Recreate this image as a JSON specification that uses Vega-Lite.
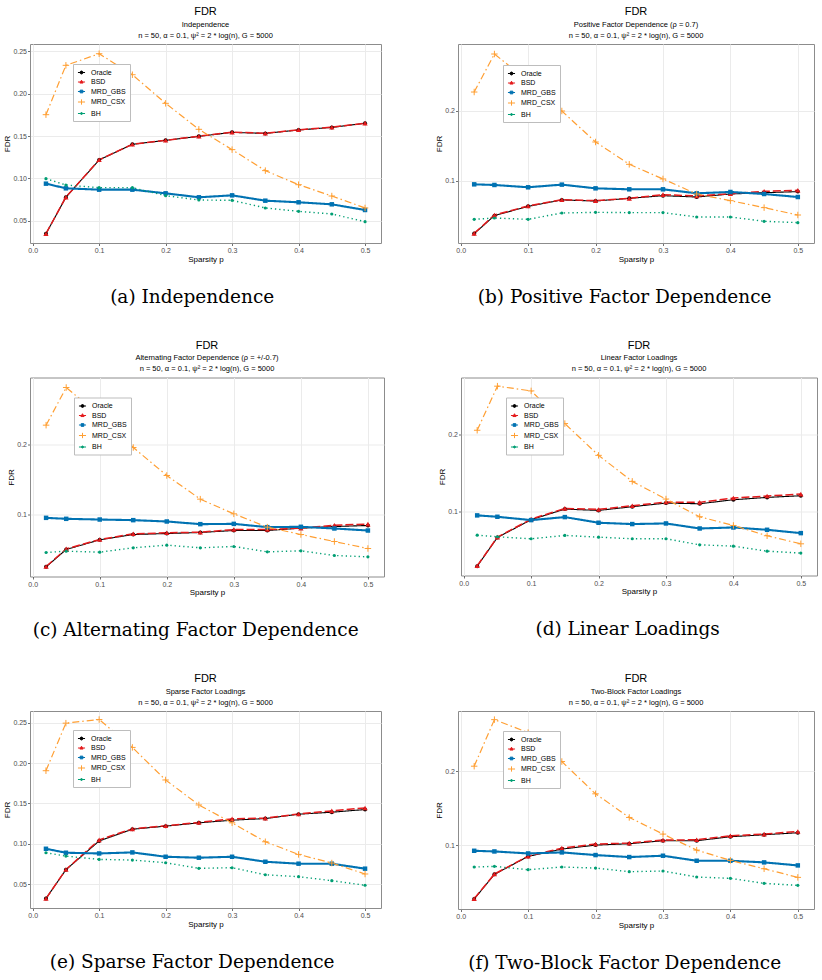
{
  "$schema": "https://vega.github.io/schema/vega-lite/v6.json",
  "background": "white",
  "padding": {"left": 2, "top": 5, "right": 3, "bottom": 3},
  "spacing": 32.5,
  "resolve": {"scale": {"color": "independent"}, "legend": {"color": "independent"}},
  "datasets": {
    "fdr": [
      {"panel": "a", "method": "Oracle", "p": 0.02, "fdr": 0.0346},
      {"panel": "a", "method": "Oracle", "p": 0.05, "fdr": 0.0776},
      {"panel": "a", "method": "Oracle", "p": 0.1, "fdr": 0.1217},
      {"panel": "a", "method": "Oracle", "p": 0.15, "fdr": 0.1402},
      {"panel": "a", "method": "Oracle", "p": 0.2, "fdr": 0.1449},
      {"panel": "a", "method": "Oracle", "p": 0.25, "fdr": 0.1496},
      {"panel": "a", "method": "Oracle", "p": 0.3, "fdr": 0.1543},
      {"panel": "a", "method": "Oracle", "p": 0.35, "fdr": 0.1531},
      {"panel": "a", "method": "Oracle", "p": 0.4, "fdr": 0.1571},
      {"panel": "a", "method": "Oracle", "p": 0.45, "fdr": 0.1602},
      {"panel": "a", "method": "Oracle", "p": 0.5, "fdr": 0.165},
      {"panel": "a", "method": "BSD", "p": 0.02, "fdr": 0.0346},
      {"panel": "a", "method": "BSD", "p": 0.05, "fdr": 0.0778},
      {"panel": "a", "method": "BSD", "p": 0.1, "fdr": 0.1219},
      {"panel": "a", "method": "BSD", "p": 0.15, "fdr": 0.1402},
      {"panel": "a", "method": "BSD", "p": 0.2, "fdr": 0.1449},
      {"panel": "a", "method": "BSD", "p": 0.25, "fdr": 0.1498},
      {"panel": "a", "method": "BSD", "p": 0.3, "fdr": 0.1545},
      {"panel": "a", "method": "BSD", "p": 0.35, "fdr": 0.1533},
      {"panel": "a", "method": "BSD", "p": 0.4, "fdr": 0.1573},
      {"panel": "a", "method": "BSD", "p": 0.45, "fdr": 0.1604},
      {"panel": "a", "method": "BSD", "p": 0.5, "fdr": 0.1652},
      {"panel": "a", "method": "MRD_GBS", "p": 0.02, "fdr": 0.0937},
      {"panel": "a", "method": "MRD_GBS", "p": 0.05, "fdr": 0.0882},
      {"panel": "a", "method": "MRD_GBS", "p": 0.1, "fdr": 0.0866},
      {"panel": "a", "method": "MRD_GBS", "p": 0.15, "fdr": 0.0866},
      {"panel": "a", "method": "MRD_GBS", "p": 0.2, "fdr": 0.0823},
      {"panel": "a", "method": "MRD_GBS", "p": 0.25, "fdr": 0.0776},
      {"panel": "a", "method": "MRD_GBS", "p": 0.3, "fdr": 0.0799},
      {"panel": "a", "method": "MRD_GBS", "p": 0.35, "fdr": 0.0736},
      {"panel": "a", "method": "MRD_GBS", "p": 0.4, "fdr": 0.0717},
      {"panel": "a", "method": "MRD_GBS", "p": 0.45, "fdr": 0.0693},
      {"panel": "a", "method": "MRD_GBS", "p": 0.5, "fdr": 0.0626},
      {"panel": "a", "method": "MRD_CSX", "p": 0.02, "fdr": 0.1752},
      {"panel": "a", "method": "MRD_CSX", "p": 0.05, "fdr": 0.2335},
      {"panel": "a", "method": "MRD_CSX", "p": 0.1, "fdr": 0.2472},
      {"panel": "a", "method": "MRD_CSX", "p": 0.15, "fdr": 0.2224},
      {"panel": "a", "method": "MRD_CSX", "p": 0.2, "fdr": 0.1886},
      {"panel": "a", "method": "MRD_CSX", "p": 0.25, "fdr": 0.1579},
      {"panel": "a", "method": "MRD_CSX", "p": 0.3, "fdr": 0.1339},
      {"panel": "a", "method": "MRD_CSX", "p": 0.35, "fdr": 0.1091},
      {"panel": "a", "method": "MRD_CSX", "p": 0.4, "fdr": 0.0925},
      {"panel": "a", "method": "MRD_CSX", "p": 0.45, "fdr": 0.0791},
      {"panel": "a", "method": "MRD_CSX", "p": 0.5, "fdr": 0.065},
      {"panel": "a", "method": "BH", "p": 0.02, "fdr": 0.0996},
      {"panel": "a", "method": "BH", "p": 0.05, "fdr": 0.0921},
      {"panel": "a", "method": "BH", "p": 0.1, "fdr": 0.089},
      {"panel": "a", "method": "BH", "p": 0.15, "fdr": 0.089},
      {"panel": "a", "method": "BH", "p": 0.2, "fdr": 0.0795},
      {"panel": "a", "method": "BH", "p": 0.25, "fdr": 0.0744},
      {"panel": "a", "method": "BH", "p": 0.3, "fdr": 0.074},
      {"panel": "a", "method": "BH", "p": 0.35, "fdr": 0.065},
      {"panel": "a", "method": "BH", "p": 0.4, "fdr": 0.061},
      {"panel": "a", "method": "BH", "p": 0.45, "fdr": 0.0579},
      {"panel": "a", "method": "BH", "p": 0.5, "fdr": 0.0488},

      {"panel": "b", "method": "Oracle", "p": 0.02, "fdr": 0.0248},
      {"panel": "b", "method": "Oracle", "p": 0.05, "fdr": 0.0505},
      {"panel": "b", "method": "Oracle", "p": 0.1, "fdr": 0.0638},
      {"panel": "b", "method": "Oracle", "p": 0.15, "fdr": 0.0729},
      {"panel": "b", "method": "Oracle", "p": 0.2, "fdr": 0.0714},
      {"panel": "b", "method": "Oracle", "p": 0.25, "fdr": 0.0752},
      {"panel": "b", "method": "Oracle", "p": 0.3, "fdr": 0.079},
      {"panel": "b", "method": "Oracle", "p": 0.35, "fdr": 0.0771},
      {"panel": "b", "method": "Oracle", "p": 0.4, "fdr": 0.0814},
      {"panel": "b", "method": "Oracle", "p": 0.45, "fdr": 0.0833},
      {"panel": "b", "method": "Oracle", "p": 0.5, "fdr": 0.0848},
      {"panel": "b", "method": "BSD", "p": 0.02, "fdr": 0.0252},
      {"panel": "b", "method": "BSD", "p": 0.05, "fdr": 0.0514},
      {"panel": "b", "method": "BSD", "p": 0.1, "fdr": 0.0643},
      {"panel": "b", "method": "BSD", "p": 0.15, "fdr": 0.0733},
      {"panel": "b", "method": "BSD", "p": 0.2, "fdr": 0.0719},
      {"panel": "b", "method": "BSD", "p": 0.25, "fdr": 0.0752},
      {"panel": "b", "method": "BSD", "p": 0.3, "fdr": 0.0805},
      {"panel": "b", "method": "BSD", "p": 0.35, "fdr": 0.0786},
      {"panel": "b", "method": "BSD", "p": 0.4, "fdr": 0.0819},
      {"panel": "b", "method": "BSD", "p": 0.45, "fdr": 0.0852},
      {"panel": "b", "method": "BSD", "p": 0.5, "fdr": 0.0867},
      {"panel": "b", "method": "MRD_GBS", "p": 0.02, "fdr": 0.0952},
      {"panel": "b", "method": "MRD_GBS", "p": 0.05, "fdr": 0.0943},
      {"panel": "b", "method": "MRD_GBS", "p": 0.1, "fdr": 0.091},
      {"panel": "b", "method": "MRD_GBS", "p": 0.15, "fdr": 0.0948},
      {"panel": "b", "method": "MRD_GBS", "p": 0.2, "fdr": 0.0895},
      {"panel": "b", "method": "MRD_GBS", "p": 0.25, "fdr": 0.0881},
      {"panel": "b", "method": "MRD_GBS", "p": 0.3, "fdr": 0.0881},
      {"panel": "b", "method": "MRD_GBS", "p": 0.35, "fdr": 0.0824},
      {"panel": "b", "method": "MRD_GBS", "p": 0.4, "fdr": 0.0843},
      {"panel": "b", "method": "MRD_GBS", "p": 0.45, "fdr": 0.0814},
      {"panel": "b", "method": "MRD_GBS", "p": 0.5, "fdr": 0.0771},
      {"panel": "b", "method": "MRD_CSX", "p": 0.02, "fdr": 0.2271},
      {"panel": "b", "method": "MRD_CSX", "p": 0.05, "fdr": 0.2814},
      {"panel": "b", "method": "MRD_CSX", "p": 0.1, "fdr": 0.243},
      {"panel": "b", "method": "MRD_CSX", "p": 0.15, "fdr": 0.2},
      {"panel": "b", "method": "MRD_CSX", "p": 0.2, "fdr": 0.1557},
      {"panel": "b", "method": "MRD_CSX", "p": 0.25, "fdr": 0.1238},
      {"panel": "b", "method": "MRD_CSX", "p": 0.3, "fdr": 0.1029},
      {"panel": "b", "method": "MRD_CSX", "p": 0.35, "fdr": 0.0814},
      {"panel": "b", "method": "MRD_CSX", "p": 0.4, "fdr": 0.0719},
      {"panel": "b", "method": "MRD_CSX", "p": 0.45, "fdr": 0.0619},
      {"panel": "b", "method": "MRD_CSX", "p": 0.5, "fdr": 0.0514},
      {"panel": "b", "method": "BH", "p": 0.02, "fdr": 0.0452},
      {"panel": "b", "method": "BH", "p": 0.05, "fdr": 0.0471},
      {"panel": "b", "method": "BH", "p": 0.1, "fdr": 0.0452},
      {"panel": "b", "method": "BH", "p": 0.15, "fdr": 0.0543},
      {"panel": "b", "method": "BH", "p": 0.2, "fdr": 0.0552},
      {"panel": "b", "method": "BH", "p": 0.25, "fdr": 0.0548},
      {"panel": "b", "method": "BH", "p": 0.3, "fdr": 0.0548},
      {"panel": "b", "method": "BH", "p": 0.35, "fdr": 0.0486},
      {"panel": "b", "method": "BH", "p": 0.4, "fdr": 0.0486},
      {"panel": "b", "method": "BH", "p": 0.45, "fdr": 0.0424},
      {"panel": "b", "method": "BH", "p": 0.5, "fdr": 0.0405},

      {"panel": "c", "method": "Oracle", "p": 0.02, "fdr": 0.0257},
      {"panel": "c", "method": "Oracle", "p": 0.05, "fdr": 0.0505},
      {"panel": "c", "method": "Oracle", "p": 0.1, "fdr": 0.0643},
      {"panel": "c", "method": "Oracle", "p": 0.15, "fdr": 0.0719},
      {"panel": "c", "method": "Oracle", "p": 0.2, "fdr": 0.0733},
      {"panel": "c", "method": "Oracle", "p": 0.25, "fdr": 0.0748},
      {"panel": "c", "method": "Oracle", "p": 0.3, "fdr": 0.0776},
      {"panel": "c", "method": "Oracle", "p": 0.35, "fdr": 0.0776},
      {"panel": "c", "method": "Oracle", "p": 0.4, "fdr": 0.081},
      {"panel": "c", "method": "Oracle", "p": 0.45, "fdr": 0.0833},
      {"panel": "c", "method": "Oracle", "p": 0.5, "fdr": 0.0848},
      {"panel": "c", "method": "BSD", "p": 0.02, "fdr": 0.0262},
      {"panel": "c", "method": "BSD", "p": 0.05, "fdr": 0.0514},
      {"panel": "c", "method": "BSD", "p": 0.1, "fdr": 0.0648},
      {"panel": "c", "method": "BSD", "p": 0.15, "fdr": 0.0729},
      {"panel": "c", "method": "BSD", "p": 0.2, "fdr": 0.0743},
      {"panel": "c", "method": "BSD", "p": 0.25, "fdr": 0.0752},
      {"panel": "c", "method": "BSD", "p": 0.3, "fdr": 0.079},
      {"panel": "c", "method": "BSD", "p": 0.35, "fdr": 0.079},
      {"panel": "c", "method": "BSD", "p": 0.4, "fdr": 0.081},
      {"panel": "c", "method": "BSD", "p": 0.45, "fdr": 0.0852},
      {"panel": "c", "method": "BSD", "p": 0.5, "fdr": 0.0867},
      {"panel": "c", "method": "MRD_GBS", "p": 0.02, "fdr": 0.0957},
      {"panel": "c", "method": "MRD_GBS", "p": 0.05, "fdr": 0.0943},
      {"panel": "c", "method": "MRD_GBS", "p": 0.1, "fdr": 0.0933},
      {"panel": "c", "method": "MRD_GBS", "p": 0.15, "fdr": 0.0924},
      {"panel": "c", "method": "MRD_GBS", "p": 0.2, "fdr": 0.0905},
      {"panel": "c", "method": "MRD_GBS", "p": 0.25, "fdr": 0.0867},
      {"panel": "c", "method": "MRD_GBS", "p": 0.3, "fdr": 0.0871},
      {"panel": "c", "method": "MRD_GBS", "p": 0.35, "fdr": 0.0824},
      {"panel": "c", "method": "MRD_GBS", "p": 0.4, "fdr": 0.0829},
      {"panel": "c", "method": "MRD_GBS", "p": 0.45, "fdr": 0.0805},
      {"panel": "c", "method": "MRD_GBS", "p": 0.5, "fdr": 0.0776},
      {"panel": "c", "method": "MRD_CSX", "p": 0.02, "fdr": 0.2281},
      {"panel": "c", "method": "MRD_CSX", "p": 0.05, "fdr": 0.2819},
      {"panel": "c", "method": "MRD_CSX", "p": 0.1, "fdr": 0.242},
      {"panel": "c", "method": "MRD_CSX", "p": 0.15, "fdr": 0.1962},
      {"panel": "c", "method": "MRD_CSX", "p": 0.2, "fdr": 0.1562},
      {"panel": "c", "method": "MRD_CSX", "p": 0.25, "fdr": 0.1224},
      {"panel": "c", "method": "MRD_CSX", "p": 0.3, "fdr": 0.1014},
      {"panel": "c", "method": "MRD_CSX", "p": 0.35, "fdr": 0.0824},
      {"panel": "c", "method": "MRD_CSX", "p": 0.4, "fdr": 0.0719},
      {"panel": "c", "method": "MRD_CSX", "p": 0.45, "fdr": 0.0619},
      {"panel": "c", "method": "MRD_CSX", "p": 0.5, "fdr": 0.0519},
      {"panel": "c", "method": "BH", "p": 0.02, "fdr": 0.0462},
      {"panel": "c", "method": "BH", "p": 0.05, "fdr": 0.0481},
      {"panel": "c", "method": "BH", "p": 0.1, "fdr": 0.0467},
      {"panel": "c", "method": "BH", "p": 0.15, "fdr": 0.0529},
      {"panel": "c", "method": "BH", "p": 0.2, "fdr": 0.0567},
      {"panel": "c", "method": "BH", "p": 0.25, "fdr": 0.0529},
      {"panel": "c", "method": "BH", "p": 0.3, "fdr": 0.0548},
      {"panel": "c", "method": "BH", "p": 0.35, "fdr": 0.0471},
      {"panel": "c", "method": "BH", "p": 0.4, "fdr": 0.0486},
      {"panel": "c", "method": "BH", "p": 0.45, "fdr": 0.0419},
      {"panel": "c", "method": "BH", "p": 0.5, "fdr": 0.04},

      {"panel": "d", "method": "Oracle", "p": 0.02, "fdr": 0.0297},
      {"panel": "d", "method": "Oracle", "p": 0.05, "fdr": 0.0668},
      {"panel": "d", "method": "Oracle", "p": 0.1, "fdr": 0.0897},
      {"panel": "d", "method": "Oracle", "p": 0.15, "fdr": 0.1034},
      {"panel": "d", "method": "Oracle", "p": 0.2, "fdr": 0.1017},
      {"panel": "d", "method": "Oracle", "p": 0.25, "fdr": 0.1065},
      {"panel": "d", "method": "Oracle", "p": 0.3, "fdr": 0.1112},
      {"panel": "d", "method": "Oracle", "p": 0.35, "fdr": 0.1103},
      {"panel": "d", "method": "Oracle", "p": 0.4, "fdr": 0.1155},
      {"panel": "d", "method": "Oracle", "p": 0.45, "fdr": 0.1185},
      {"panel": "d", "method": "Oracle", "p": 0.5, "fdr": 0.1207},
      {"panel": "d", "method": "BSD", "p": 0.02, "fdr": 0.0302},
      {"panel": "d", "method": "BSD", "p": 0.05, "fdr": 0.0672},
      {"panel": "d", "method": "BSD", "p": 0.1, "fdr": 0.0905},
      {"panel": "d", "method": "BSD", "p": 0.15, "fdr": 0.1043},
      {"panel": "d", "method": "BSD", "p": 0.2, "fdr": 0.103},
      {"panel": "d", "method": "BSD", "p": 0.25, "fdr": 0.1078},
      {"panel": "d", "method": "BSD", "p": 0.3, "fdr": 0.1125},
      {"panel": "d", "method": "BSD", "p": 0.35, "fdr": 0.1121},
      {"panel": "d", "method": "BSD", "p": 0.4, "fdr": 0.1177},
      {"panel": "d", "method": "BSD", "p": 0.45, "fdr": 0.1203},
      {"panel": "d", "method": "BSD", "p": 0.5, "fdr": 0.1228},
      {"panel": "d", "method": "MRD_GBS", "p": 0.02, "fdr": 0.0953},
      {"panel": "d", "method": "MRD_GBS", "p": 0.05, "fdr": 0.0935},
      {"panel": "d", "method": "MRD_GBS", "p": 0.1, "fdr": 0.0892},
      {"panel": "d", "method": "MRD_GBS", "p": 0.15, "fdr": 0.0931},
      {"panel": "d", "method": "MRD_GBS", "p": 0.2, "fdr": 0.0858},
      {"panel": "d", "method": "MRD_GBS", "p": 0.25, "fdr": 0.0841},
      {"panel": "d", "method": "MRD_GBS", "p": 0.3, "fdr": 0.0849},
      {"panel": "d", "method": "MRD_GBS", "p": 0.35, "fdr": 0.0784},
      {"panel": "d", "method": "MRD_GBS", "p": 0.4, "fdr": 0.0797},
      {"panel": "d", "method": "MRD_GBS", "p": 0.45, "fdr": 0.0767},
      {"panel": "d", "method": "MRD_GBS", "p": 0.5, "fdr": 0.0724},
      {"panel": "d", "method": "MRD_CSX", "p": 0.02, "fdr": 0.2052},
      {"panel": "d", "method": "MRD_CSX", "p": 0.05, "fdr": 0.2621},
      {"panel": "d", "method": "MRD_CSX", "p": 0.1, "fdr": 0.256},
      {"panel": "d", "method": "MRD_CSX", "p": 0.15, "fdr": 0.2138},
      {"panel": "d", "method": "MRD_CSX", "p": 0.2, "fdr": 0.1728},
      {"panel": "d", "method": "MRD_CSX", "p": 0.25, "fdr": 0.1392},
      {"panel": "d", "method": "MRD_CSX", "p": 0.3, "fdr": 0.1164},
      {"panel": "d", "method": "MRD_CSX", "p": 0.35, "fdr": 0.0935},
      {"panel": "d", "method": "MRD_CSX", "p": 0.4, "fdr": 0.0823},
      {"panel": "d", "method": "MRD_CSX", "p": 0.45, "fdr": 0.069},
      {"panel": "d", "method": "MRD_CSX", "p": 0.5, "fdr": 0.0586},
      {"panel": "d", "method": "BH", "p": 0.02, "fdr": 0.0698},
      {"panel": "d", "method": "BH", "p": 0.05, "fdr": 0.0677},
      {"panel": "d", "method": "BH", "p": 0.1, "fdr": 0.0651},
      {"panel": "d", "method": "BH", "p": 0.15, "fdr": 0.0694},
      {"panel": "d", "method": "BH", "p": 0.2, "fdr": 0.0672},
      {"panel": "d", "method": "BH", "p": 0.25, "fdr": 0.0651},
      {"panel": "d", "method": "BH", "p": 0.3, "fdr": 0.0651},
      {"panel": "d", "method": "BH", "p": 0.35, "fdr": 0.0573},
      {"panel": "d", "method": "BH", "p": 0.4, "fdr": 0.0556},
      {"panel": "d", "method": "BH", "p": 0.45, "fdr": 0.0491},
      {"panel": "d", "method": "BH", "p": 0.5, "fdr": 0.0466},

      {"panel": "e", "method": "Oracle", "p": 0.02, "fdr": 0.032},
      {"panel": "e", "method": "Oracle", "p": 0.05, "fdr": 0.0678},
      {"panel": "e", "method": "Oracle", "p": 0.1, "fdr": 0.1035},
      {"panel": "e", "method": "Oracle", "p": 0.15, "fdr": 0.1181},
      {"panel": "e", "method": "Oracle", "p": 0.2, "fdr": 0.1219},
      {"panel": "e", "method": "Oracle", "p": 0.25, "fdr": 0.126},
      {"panel": "e", "method": "Oracle", "p": 0.3, "fdr": 0.1293},
      {"panel": "e", "method": "Oracle", "p": 0.35, "fdr": 0.1313},
      {"panel": "e", "method": "Oracle", "p": 0.4, "fdr": 0.1367},
      {"panel": "e", "method": "Oracle", "p": 0.45, "fdr": 0.1392},
      {"panel": "e", "method": "Oracle", "p": 0.5, "fdr": 0.1425},
      {"panel": "e", "method": "BSD", "p": 0.02, "fdr": 0.032},
      {"panel": "e", "method": "BSD", "p": 0.05, "fdr": 0.068},
      {"panel": "e", "method": "BSD", "p": 0.1, "fdr": 0.1049},
      {"panel": "e", "method": "BSD", "p": 0.15, "fdr": 0.1185},
      {"panel": "e", "method": "BSD", "p": 0.2, "fdr": 0.1223},
      {"panel": "e", "method": "BSD", "p": 0.25, "fdr": 0.1265},
      {"panel": "e", "method": "BSD", "p": 0.3, "fdr": 0.1309},
      {"panel": "e", "method": "BSD", "p": 0.35, "fdr": 0.1318},
      {"panel": "e", "method": "BSD", "p": 0.4, "fdr": 0.137},
      {"panel": "e", "method": "BSD", "p": 0.45, "fdr": 0.1408},
      {"panel": "e", "method": "BSD", "p": 0.5, "fdr": 0.1445},
      {"panel": "e", "method": "MRD_GBS", "p": 0.02, "fdr": 0.0938},
      {"panel": "e", "method": "MRD_GBS", "p": 0.05, "fdr": 0.0889},
      {"panel": "e", "method": "MRD_GBS", "p": 0.1, "fdr": 0.088},
      {"panel": "e", "method": "MRD_GBS", "p": 0.15, "fdr": 0.0893},
      {"panel": "e", "method": "MRD_GBS", "p": 0.2, "fdr": 0.0839},
      {"panel": "e", "method": "MRD_GBS", "p": 0.25, "fdr": 0.0827},
      {"panel": "e", "method": "MRD_GBS", "p": 0.3, "fdr": 0.0839},
      {"panel": "e", "method": "MRD_GBS", "p": 0.35, "fdr": 0.0777},
      {"panel": "e", "method": "MRD_GBS", "p": 0.4, "fdr": 0.0753},
      {"panel": "e", "method": "MRD_GBS", "p": 0.45, "fdr": 0.0753},
      {"panel": "e", "method": "MRD_GBS", "p": 0.5, "fdr": 0.0691},
      {"panel": "e", "method": "MRD_CSX", "p": 0.02, "fdr": 0.1907},
      {"panel": "e", "method": "MRD_CSX", "p": 0.05, "fdr": 0.2497},
      {"panel": "e", "method": "MRD_CSX", "p": 0.1, "fdr": 0.2542},
      {"panel": "e", "method": "MRD_CSX", "p": 0.15, "fdr": 0.2196},
      {"panel": "e", "method": "MRD_CSX", "p": 0.2, "fdr": 0.1792},
      {"panel": "e", "method": "MRD_CSX", "p": 0.25, "fdr": 0.1482},
      {"panel": "e", "method": "MRD_CSX", "p": 0.3, "fdr": 0.126},
      {"panel": "e", "method": "MRD_CSX", "p": 0.35, "fdr": 0.1025},
      {"panel": "e", "method": "MRD_CSX", "p": 0.4, "fdr": 0.0868},
      {"panel": "e", "method": "MRD_CSX", "p": 0.45, "fdr": 0.0761},
      {"panel": "e", "method": "MRD_CSX", "p": 0.5, "fdr": 0.0625},
      {"panel": "e", "method": "BH", "p": 0.02, "fdr": 0.0889},
      {"panel": "e", "method": "BH", "p": 0.05, "fdr": 0.0847},
      {"panel": "e", "method": "BH", "p": 0.1, "fdr": 0.0806},
      {"panel": "e", "method": "BH", "p": 0.15, "fdr": 0.0798},
      {"panel": "e", "method": "BH", "p": 0.2, "fdr": 0.0765},
      {"panel": "e", "method": "BH", "p": 0.25, "fdr": 0.0695},
      {"panel": "e", "method": "BH", "p": 0.3, "fdr": 0.0703},
      {"panel": "e", "method": "BH", "p": 0.35, "fdr": 0.0616},
      {"panel": "e", "method": "BH", "p": 0.4, "fdr": 0.0592},
      {"panel": "e", "method": "BH", "p": 0.45, "fdr": 0.0542},
      {"panel": "e", "method": "BH", "p": 0.5, "fdr": 0.0485},

      {"panel": "f", "method": "Oracle", "p": 0.02, "fdr": 0.027},
      {"panel": "f", "method": "Oracle", "p": 0.05, "fdr": 0.0604},
      {"panel": "f", "method": "Oracle", "p": 0.1, "fdr": 0.0847},
      {"panel": "f", "method": "Oracle", "p": 0.15, "fdr": 0.0946},
      {"panel": "f", "method": "Oracle", "p": 0.2, "fdr": 0.1},
      {"panel": "f", "method": "Oracle", "p": 0.25, "fdr": 0.1018},
      {"panel": "f", "method": "Oracle", "p": 0.3, "fdr": 0.1059},
      {"panel": "f", "method": "Oracle", "p": 0.35, "fdr": 0.1059},
      {"panel": "f", "method": "Oracle", "p": 0.4, "fdr": 0.1113},
      {"panel": "f", "method": "Oracle", "p": 0.45, "fdr": 0.114},
      {"panel": "f", "method": "Oracle", "p": 0.5, "fdr": 0.1167},
      {"panel": "f", "method": "BSD", "p": 0.02, "fdr": 0.0275},
      {"panel": "f", "method": "BSD", "p": 0.05, "fdr": 0.0608},
      {"panel": "f", "method": "BSD", "p": 0.1, "fdr": 0.0851},
      {"panel": "f", "method": "BSD", "p": 0.15, "fdr": 0.0959},
      {"panel": "f", "method": "BSD", "p": 0.2, "fdr": 0.1014},
      {"panel": "f", "method": "BSD", "p": 0.25, "fdr": 0.1027},
      {"panel": "f", "method": "BSD", "p": 0.3, "fdr": 0.1068},
      {"panel": "f", "method": "BSD", "p": 0.35, "fdr": 0.1072},
      {"panel": "f", "method": "BSD", "p": 0.4, "fdr": 0.1126},
      {"panel": "f", "method": "BSD", "p": 0.45, "fdr": 0.1149},
      {"panel": "f", "method": "BSD", "p": 0.5, "fdr": 0.1185},
      {"panel": "f", "method": "MRD_GBS", "p": 0.02, "fdr": 0.0923},
      {"panel": "f", "method": "MRD_GBS", "p": 0.05, "fdr": 0.0914},
      {"panel": "f", "method": "MRD_GBS", "p": 0.1, "fdr": 0.0887},
      {"panel": "f", "method": "MRD_GBS", "p": 0.15, "fdr": 0.0901},
      {"panel": "f", "method": "MRD_GBS", "p": 0.2, "fdr": 0.0865},
      {"panel": "f", "method": "MRD_GBS", "p": 0.25, "fdr": 0.0838},
      {"panel": "f", "method": "MRD_GBS", "p": 0.3, "fdr": 0.0856},
      {"panel": "f", "method": "MRD_GBS", "p": 0.35, "fdr": 0.0788},
      {"panel": "f", "method": "MRD_GBS", "p": 0.4, "fdr": 0.0788},
      {"panel": "f", "method": "MRD_GBS", "p": 0.45, "fdr": 0.0766},
      {"panel": "f", "method": "MRD_GBS", "p": 0.5, "fdr": 0.0725},
      {"panel": "f", "method": "MRD_CSX", "p": 0.02, "fdr": 0.2068},
      {"panel": "f", "method": "MRD_CSX", "p": 0.05, "fdr": 0.2698},
      {"panel": "f", "method": "MRD_CSX", "p": 0.1, "fdr": 0.2523},
      {"panel": "f", "method": "MRD_CSX", "p": 0.15, "fdr": 0.2131},
      {"panel": "f", "method": "MRD_CSX", "p": 0.2, "fdr": 0.1694},
      {"panel": "f", "method": "MRD_CSX", "p": 0.25, "fdr": 0.1374},
      {"panel": "f", "method": "MRD_CSX", "p": 0.3, "fdr": 0.1149},
      {"panel": "f", "method": "MRD_CSX", "p": 0.35, "fdr": 0.0932},
      {"panel": "f", "method": "MRD_CSX", "p": 0.4, "fdr": 0.0793},
      {"panel": "f", "method": "MRD_CSX", "p": 0.45, "fdr": 0.068},
      {"panel": "f", "method": "MRD_CSX", "p": 0.5, "fdr": 0.0563},
      {"panel": "f", "method": "BH", "p": 0.02, "fdr": 0.0703},
      {"panel": "f", "method": "BH", "p": 0.05, "fdr": 0.0712},
      {"panel": "f", "method": "BH", "p": 0.1, "fdr": 0.0667},
      {"panel": "f", "method": "BH", "p": 0.15, "fdr": 0.0703},
      {"panel": "f", "method": "BH", "p": 0.2, "fdr": 0.0689},
      {"panel": "f", "method": "BH", "p": 0.25, "fdr": 0.064},
      {"panel": "f", "method": "BH", "p": 0.3, "fdr": 0.0649},
      {"panel": "f", "method": "BH", "p": 0.35, "fdr": 0.0568},
      {"panel": "f", "method": "BH", "p": 0.4, "fdr": 0.055},
      {"panel": "f", "method": "BH", "p": 0.45, "fdr": 0.0482},
      {"panel": "f", "method": "BH", "p": 0.5, "fdr": 0.0455}
    ]
  },
  "vconcat": [
    {
      "hconcat": [
        {
          "title": {"text": "(a) Independence", "orient": "bottom", "anchor": "middle", "frame": "bounds", "font": "DejaVu Serif", "fontSize": 18.5, "fontWeight": "normal", "color": "black", "offset": 24},
          "resolve": {"scale": {"color": "independent"}, "legend": {"color": "independent"}},
          "vconcat": [
            {
              "width": 351,
              "height": 199,
              "title": {"text": "FDR", "subtitle": ["Independence", "n = 50, α = 0.1, ψ² = 2 * log(n), G = 5000"]},
              "data": {"name": "fdr"},
              "transform": [{"filter": "datum.panel === 'a'"}],
              "encoding": {
                "x": {"field": "p", "type": "quantitative", "title": "Sparsity p", "scale": {"domain": [-0.004, 0.524], "nice": false, "zero": false}, "axis": {"values": [0, 0.1, 0.2, 0.3, 0.4, 0.5], "format": ".1f"}},
                "y": {"field": "fdr", "type": "quantitative", "title": "FDR", "scale": {"domain": [0.0236, 0.2587], "nice": false, "zero": false}, "axis": {"values": [0.05, 0.1, 0.15, 0.2, 0.25], "format": ".2f"}},
                "color": {
                  "field": "method", "type": "nominal",
                  "scale": {"domain": ["Oracle", "BSD", "MRD_GBS", "MRD_CSX", "BH"], "range": ["#000000", "#E41A1C", "#0072B2", "#FF9F33", "#009E73"]},
                  "legend": {"orient": "none", "legendX": 43, "legendY": 20, "title": null,
                    "encode": {"symbols": {"update": {
                      "shape": {"signal": "datum.value === 'Oracle' ? 'M-1,0H1M0.42,0A0.42,0.42,0,1,1,-0.42,0A0.42,0.42,0,1,1,0.42,0Z' : datum.value === 'BSD' ? 'M-1,0H1M0,-0.5L0.45,0.3L-0.45,0.3Z' : datum.value === 'MRD_GBS' ? 'M-1,0H1M-0.38,-0.38H0.38V0.38H-0.38Z' : datum.value === 'MRD_CSX' ? 'M-1,0H1M0,-0.75V0.75' : 'M-1,0H1M0.28,0A0.28,0.28,0,1,1,-0.28,0A0.28,0.28,0,1,1,0.28,0Z'"},
                      "fill": {"signal": "datum.value === 'Oracle' ? '#000000' : datum.value === 'BSD' ? '#E41A1C' : datum.value === 'MRD_GBS' ? '#0072B2' : datum.value === 'MRD_CSX' ? 'transparent' : '#009E73'"},
                      "stroke": {"signal": "datum.value === 'Oracle' ? '#000000' : datum.value === 'BSD' ? '#E41A1C' : datum.value === 'MRD_GBS' ? '#0072B2' : datum.value === 'MRD_CSX' ? '#FF9F33' : '#009E73'"},
                      "strokeWidth": {"value": 1}
                    }}}
                  }
                }
              },
              "layer": [
                {"data": {"values": [{}]}, "mark": {"type": "rule", "strokeDash": [4, 3], "strokeWidth": 1}, "encoding": {"x": {"datum": -0.004, "type": "quantitative"}, "x2": {"datum": 0.524}, "y": {"datum": 0.1, "type": "quantitative"}, "color": {"value": "#222222"}}},
                {"mark": {"type": "line"}, "encoding": {
                  "strokeDash": {"condition": [{"test": "datum.method === 'BSD'", "value": [8, 3]}, {"test": "datum.method === 'MRD_CSX'", "value": [7, 3, 1.5, 3]}, {"test": "datum.method === 'BH'", "value": [1.3, 3]}], "value": [1, 0]},
                  "strokeWidth": {"condition": [{"test": "datum.method === 'MRD_GBS'", "value": 2.1}, {"test": "datum.method === 'MRD_CSX'", "value": 1.2}, {"test": "datum.method === 'BH'", "value": 1.4}, {"test": "datum.method === 'BSD'", "value": 1.5}], "value": 1.1}
                }},
                {"transform": [{"filter": "datum.method !== 'MRD_CSX'"}], "mark": {"type": "point", "filled": true, "opacity": 1}, "encoding": {
                  "shape": {"condition": [{"test": "datum.method === 'BSD'", "value": "triangle-up"}, {"test": "datum.method === 'MRD_GBS'", "value": "square"}], "value": "circle"},
                  "size": {"condition": [{"test": "datum.method === 'BH'", "value": 10}, {"test": "datum.method === 'BSD'", "value": 28}, {"test": "datum.method === 'MRD_GBS'", "value": 20}], "value": 16}
                }},
                {"transform": [{"filter": "datum.method === 'MRD_CSX'"}], "mark": {"type": "point", "filled": false, "shape": "M-1,0H1M0,-1V1", "size": 42, "strokeWidth": 1, "opacity": 1}}
              ]
            }
          ]
        },
        {
          "title": {"text": "(b) Positive Factor Dependence", "orient": "bottom", "anchor": "middle", "frame": "bounds", "font": "DejaVu Serif", "fontSize": 18.5, "fontWeight": "normal", "color": "black", "offset": 24},
          "resolve": {"scale": {"color": "independent"}, "legend": {"color": "independent"}},
          "vconcat": [
            {
              "width": 356,
              "height": 199,
              "title": {"text": "FDR", "subtitle": ["Positive Factor Dependence (ρ = 0.7)", "n = 50, α = 0.1, ψ² = 2 * log(n), G = 5000"]},
              "data": {"name": "fdr"},
              "transform": [{"filter": "datum.panel === 'b'"}],
              "encoding": {
                "x": {"field": "p", "type": "quantitative", "title": "Sparsity p", "scale": {"domain": [-0.004, 0.524], "nice": false, "zero": false}, "axis": {"values": [0, 0.1, 0.2, 0.3, 0.4, 0.5], "format": ".1f"}},
                "y": {"field": "fdr", "type": "quantitative", "title": "FDR", "scale": {"domain": [0.0114, 0.2957], "nice": false, "zero": false}, "axis": {"values": [0.1, 0.2], "format": ".1f"}},
                "color": {
                  "field": "method", "type": "nominal",
                  "scale": {"domain": ["Oracle", "BSD", "MRD_GBS", "MRD_CSX", "BH"], "range": ["#000000", "#E41A1C", "#0072B2", "#FF9F33", "#009E73"]},
                  "legend": {"orient": "none", "legendX": 45, "legendY": 21, "title": null,
                    "encode": {"symbols": {"update": {
                      "shape": {"signal": "datum.value === 'Oracle' ? 'M-1,0H1M0.42,0A0.42,0.42,0,1,1,-0.42,0A0.42,0.42,0,1,1,0.42,0Z' : datum.value === 'BSD' ? 'M-1,0H1M0,-0.5L0.45,0.3L-0.45,0.3Z' : datum.value === 'MRD_GBS' ? 'M-1,0H1M-0.38,-0.38H0.38V0.38H-0.38Z' : datum.value === 'MRD_CSX' ? 'M-1,0H1M0,-0.75V0.75' : 'M-1,0H1M0.28,0A0.28,0.28,0,1,1,-0.28,0A0.28,0.28,0,1,1,0.28,0Z'"},
                      "fill": {"signal": "datum.value === 'Oracle' ? '#000000' : datum.value === 'BSD' ? '#E41A1C' : datum.value === 'MRD_GBS' ? '#0072B2' : datum.value === 'MRD_CSX' ? 'transparent' : '#009E73'"},
                      "stroke": {"signal": "datum.value === 'Oracle' ? '#000000' : datum.value === 'BSD' ? '#E41A1C' : datum.value === 'MRD_GBS' ? '#0072B2' : datum.value === 'MRD_CSX' ? '#FF9F33' : '#009E73'"},
                      "strokeWidth": {"value": 1}
                    }}}
                  }
                }
              },
              "layer": [
                {"data": {"values": [{}]}, "mark": {"type": "rule", "strokeDash": [4, 3], "strokeWidth": 1}, "encoding": {"x": {"datum": -0.004, "type": "quantitative"}, "x2": {"datum": 0.524}, "y": {"datum": 0.1, "type": "quantitative"}, "color": {"value": "#222222"}}},
                {"mark": {"type": "line"}, "encoding": {
                  "strokeDash": {"condition": [{"test": "datum.method === 'BSD'", "value": [8, 3]}, {"test": "datum.method === 'MRD_CSX'", "value": [7, 3, 1.5, 3]}, {"test": "datum.method === 'BH'", "value": [1.3, 3]}], "value": [1, 0]},
                  "strokeWidth": {"condition": [{"test": "datum.method === 'MRD_GBS'", "value": 2.1}, {"test": "datum.method === 'MRD_CSX'", "value": 1.2}, {"test": "datum.method === 'BH'", "value": 1.4}, {"test": "datum.method === 'BSD'", "value": 1.5}], "value": 1.1}
                }},
                {"transform": [{"filter": "datum.method !== 'MRD_CSX'"}], "mark": {"type": "point", "filled": true, "opacity": 1}, "encoding": {
                  "shape": {"condition": [{"test": "datum.method === 'BSD'", "value": "triangle-up"}, {"test": "datum.method === 'MRD_GBS'", "value": "square"}], "value": "circle"},
                  "size": {"condition": [{"test": "datum.method === 'BH'", "value": 10}, {"test": "datum.method === 'BSD'", "value": 28}, {"test": "datum.method === 'MRD_GBS'", "value": 20}], "value": 16}
                }},
                {"transform": [{"filter": "datum.method === 'MRD_CSX'"}], "mark": {"type": "point", "filled": false, "shape": "M-1,0H1M0,-1V1", "size": 42, "strokeWidth": 1, "opacity": 1}}
              ]
            }
          ]
        }
      ],
      "spacing": 52,
      "resolve": {"scale": {"color": "independent"}, "legend": {"color": "independent"}}
    },
    {
      "hconcat": [
        {
          "title": {"text": "(c) Alternating Factor Dependence", "orient": "bottom", "anchor": "middle", "frame": "bounds", "font": "DejaVu Serif", "fontSize": 18.5, "fontWeight": "normal", "color": "black", "offset": 24},
          "resolve": {"scale": {"color": "independent"}, "legend": {"color": "independent"}},
          "vconcat": [
            {
              "width": 354,
              "height": 199,
              "title": {"text": "FDR", "subtitle": ["Alternating Factor Dependence (ρ = +/-0.7)", "n = 50, α = 0.1, ψ² = 2 * log(n), G = 5000"]},
              "data": {"name": "fdr"},
              "transform": [{"filter": "datum.panel === 'c'"}],
              "encoding": {
                "x": {"field": "p", "type": "quantitative", "title": "Sparsity p", "scale": {"domain": [-0.004, 0.524], "nice": false, "zero": false}, "axis": {"values": [0, 0.1, 0.2, 0.3, 0.4, 0.5], "format": ".1f"}},
                "y": {"field": "fdr", "type": "quantitative", "title": "FDR", "scale": {"domain": [0.0119, 0.2962], "nice": false, "zero": false}, "axis": {"values": [0.1, 0.2], "format": ".1f"}},
                "color": {
                  "field": "method", "type": "nominal",
                  "scale": {"domain": ["Oracle", "BSD", "MRD_GBS", "MRD_CSX", "BH"], "range": ["#000000", "#E41A1C", "#0072B2", "#FF9F33", "#009E73"]},
                  "legend": {"orient": "none", "legendX": 44, "legendY": 20, "title": null,
                    "encode": {"symbols": {"update": {
                      "shape": {"signal": "datum.value === 'Oracle' ? 'M-1,0H1M0.42,0A0.42,0.42,0,1,1,-0.42,0A0.42,0.42,0,1,1,0.42,0Z' : datum.value === 'BSD' ? 'M-1,0H1M0,-0.5L0.45,0.3L-0.45,0.3Z' : datum.value === 'MRD_GBS' ? 'M-1,0H1M-0.38,-0.38H0.38V0.38H-0.38Z' : datum.value === 'MRD_CSX' ? 'M-1,0H1M0,-0.75V0.75' : 'M-1,0H1M0.28,0A0.28,0.28,0,1,1,-0.28,0A0.28,0.28,0,1,1,0.28,0Z'"},
                      "fill": {"signal": "datum.value === 'Oracle' ? '#000000' : datum.value === 'BSD' ? '#E41A1C' : datum.value === 'MRD_GBS' ? '#0072B2' : datum.value === 'MRD_CSX' ? 'transparent' : '#009E73'"},
                      "stroke": {"signal": "datum.value === 'Oracle' ? '#000000' : datum.value === 'BSD' ? '#E41A1C' : datum.value === 'MRD_GBS' ? '#0072B2' : datum.value === 'MRD_CSX' ? '#FF9F33' : '#009E73'"},
                      "strokeWidth": {"value": 1}
                    }}}
                  }
                }
              },
              "layer": [
                {"data": {"values": [{}]}, "mark": {"type": "rule", "strokeDash": [4, 3], "strokeWidth": 1}, "encoding": {"x": {"datum": -0.004, "type": "quantitative"}, "x2": {"datum": 0.524}, "y": {"datum": 0.1, "type": "quantitative"}, "color": {"value": "#222222"}}},
                {"mark": {"type": "line"}, "encoding": {
                  "strokeDash": {"condition": [{"test": "datum.method === 'BSD'", "value": [8, 3]}, {"test": "datum.method === 'MRD_CSX'", "value": [7, 3, 1.5, 3]}, {"test": "datum.method === 'BH'", "value": [1.3, 3]}], "value": [1, 0]},
                  "strokeWidth": {"condition": [{"test": "datum.method === 'MRD_GBS'", "value": 2.1}, {"test": "datum.method === 'MRD_CSX'", "value": 1.2}, {"test": "datum.method === 'BH'", "value": 1.4}, {"test": "datum.method === 'BSD'", "value": 1.5}], "value": 1.1}
                }},
                {"transform": [{"filter": "datum.method !== 'MRD_CSX'"}], "mark": {"type": "point", "filled": true, "opacity": 1}, "encoding": {
                  "shape": {"condition": [{"test": "datum.method === 'BSD'", "value": "triangle-up"}, {"test": "datum.method === 'MRD_GBS'", "value": "square"}], "value": "circle"},
                  "size": {"condition": [{"test": "datum.method === 'BH'", "value": 10}, {"test": "datum.method === 'BSD'", "value": 28}, {"test": "datum.method === 'MRD_GBS'", "value": 20}], "value": 16}
                }},
                {"transform": [{"filter": "datum.method === 'MRD_CSX'"}], "mark": {"type": "point", "filled": false, "shape": "M-1,0H1M0,-1V1", "size": 42, "strokeWidth": 1, "opacity": 1}}
              ]
            }
          ]
        },
        {
          "title": {"text": "(d) Linear Loadings", "orient": "bottom", "anchor": "middle", "frame": "bounds", "font": "DejaVu Serif", "fontSize": 18.5, "fontWeight": "normal", "color": "black", "offset": 24},
          "resolve": {"scale": {"color": "independent"}, "legend": {"color": "independent"}},
          "vconcat": [
            {
              "width": 356,
              "height": 198,
              "title": {"text": "FDR", "subtitle": ["Linear Factor Loadings", "n = 50, α = 0.1, ψ² = 2 * log(n), G = 5000"]},
              "data": {"name": "fdr"},
              "transform": [{"filter": "datum.panel === 'd'"}],
              "encoding": {
                "x": {"field": "p", "type": "quantitative", "title": "Sparsity p", "scale": {"domain": [-0.004, 0.524], "nice": false, "zero": false}, "axis": {"values": [0, 0.1, 0.2, 0.3, 0.4, 0.5], "format": ".1f"}},
                "y": {"field": "fdr", "type": "quantitative", "title": "FDR", "scale": {"domain": [0.0177, 0.2733], "nice": false, "zero": false}, "axis": {"values": [0.1, 0.2], "format": ".1f"}},
                "color": {
                  "field": "method", "type": "nominal",
                  "scale": {"domain": ["Oracle", "BSD", "MRD_GBS", "MRD_CSX", "BH"], "range": ["#000000", "#E41A1C", "#0072B2", "#FF9F33", "#009E73"]},
                  "legend": {"orient": "none", "legendX": 45, "legendY": 20, "title": null,
                    "encode": {"symbols": {"update": {
                      "shape": {"signal": "datum.value === 'Oracle' ? 'M-1,0H1M0.42,0A0.42,0.42,0,1,1,-0.42,0A0.42,0.42,0,1,1,0.42,0Z' : datum.value === 'BSD' ? 'M-1,0H1M0,-0.5L0.45,0.3L-0.45,0.3Z' : datum.value === 'MRD_GBS' ? 'M-1,0H1M-0.38,-0.38H0.38V0.38H-0.38Z' : datum.value === 'MRD_CSX' ? 'M-1,0H1M0,-0.75V0.75' : 'M-1,0H1M0.28,0A0.28,0.28,0,1,1,-0.28,0A0.28,0.28,0,1,1,0.28,0Z'"},
                      "fill": {"signal": "datum.value === 'Oracle' ? '#000000' : datum.value === 'BSD' ? '#E41A1C' : datum.value === 'MRD_GBS' ? '#0072B2' : datum.value === 'MRD_CSX' ? 'transparent' : '#009E73'"},
                      "stroke": {"signal": "datum.value === 'Oracle' ? '#000000' : datum.value === 'BSD' ? '#E41A1C' : datum.value === 'MRD_GBS' ? '#0072B2' : datum.value === 'MRD_CSX' ? '#FF9F33' : '#009E73'"},
                      "strokeWidth": {"value": 1}
                    }}}
                  }
                }
              },
              "layer": [
                {"data": {"values": [{}]}, "mark": {"type": "rule", "strokeDash": [4, 3], "strokeWidth": 1}, "encoding": {"x": {"datum": -0.004, "type": "quantitative"}, "x2": {"datum": 0.524}, "y": {"datum": 0.1, "type": "quantitative"}, "color": {"value": "#222222"}}},
                {"mark": {"type": "line"}, "encoding": {
                  "strokeDash": {"condition": [{"test": "datum.method === 'BSD'", "value": [8, 3]}, {"test": "datum.method === 'MRD_CSX'", "value": [7, 3, 1.5, 3]}, {"test": "datum.method === 'BH'", "value": [1.3, 3]}], "value": [1, 0]},
                  "strokeWidth": {"condition": [{"test": "datum.method === 'MRD_GBS'", "value": 2.1}, {"test": "datum.method === 'MRD_CSX'", "value": 1.2}, {"test": "datum.method === 'BH'", "value": 1.4}, {"test": "datum.method === 'BSD'", "value": 1.5}], "value": 1.1}
                }},
                {"transform": [{"filter": "datum.method !== 'MRD_CSX'"}], "mark": {"type": "point", "filled": true, "opacity": 1}, "encoding": {
                  "shape": {"condition": [{"test": "datum.method === 'BSD'", "value": "triangle-up"}, {"test": "datum.method === 'MRD_GBS'", "value": "square"}], "value": "circle"},
                  "size": {"condition": [{"test": "datum.method === 'BH'", "value": 10}, {"test": "datum.method === 'BSD'", "value": 28}, {"test": "datum.method === 'MRD_GBS'", "value": 20}], "value": 16}
                }},
                {"transform": [{"filter": "datum.method === 'MRD_CSX'"}], "mark": {"type": "point", "filled": false, "shape": "M-1,0H1M0,-1V1", "size": 42, "strokeWidth": 1, "opacity": 1}}
              ]
            }
          ]
        }
      ],
      "spacing": 52,
      "resolve": {"scale": {"color": "independent"}, "legend": {"color": "independent"}}
    },
    {
      "hconcat": [
        {
          "title": {"text": "(e) Sparse Factor Dependence", "orient": "bottom", "anchor": "middle", "frame": "bounds", "font": "DejaVu Serif", "fontSize": 18.5, "fontWeight": "normal", "color": "black", "offset": 24},
          "resolve": {"scale": {"color": "independent"}, "legend": {"color": "independent"}},
          "vconcat": [
            {
              "width": 351,
              "height": 197,
              "title": {"text": "FDR", "subtitle": ["Sparse Factor Loadings", "n = 50, α = 0.1, ψ² = 2 * log(n), G = 5000"]},
              "data": {"name": "fdr"},
              "transform": [{"filter": "datum.panel === 'e'"}],
              "encoding": {
                "x": {"field": "p", "type": "quantitative", "title": "Sparsity p", "scale": {"domain": [-0.004, 0.524], "nice": false, "zero": false}, "axis": {"values": [0, 0.1, 0.2, 0.3, 0.4, 0.5], "format": ".1f"}},
                "y": {"field": "fdr", "type": "quantitative", "title": "FDR", "scale": {"domain": [0.0203, 0.2648], "nice": false, "zero": false}, "axis": {"values": [0.05, 0.1, 0.15, 0.2, 0.25], "format": ".2f"}},
                "color": {
                  "field": "method", "type": "nominal",
                  "scale": {"domain": ["Oracle", "BSD", "MRD_GBS", "MRD_CSX", "BH"], "range": ["#000000", "#E41A1C", "#0072B2", "#FF9F33", "#009E73"]},
                  "legend": {"orient": "none", "legendX": 43, "legendY": 19, "title": null,
                    "encode": {"symbols": {"update": {
                      "shape": {"signal": "datum.value === 'Oracle' ? 'M-1,0H1M0.42,0A0.42,0.42,0,1,1,-0.42,0A0.42,0.42,0,1,1,0.42,0Z' : datum.value === 'BSD' ? 'M-1,0H1M0,-0.5L0.45,0.3L-0.45,0.3Z' : datum.value === 'MRD_GBS' ? 'M-1,0H1M-0.38,-0.38H0.38V0.38H-0.38Z' : datum.value === 'MRD_CSX' ? 'M-1,0H1M0,-0.75V0.75' : 'M-1,0H1M0.28,0A0.28,0.28,0,1,1,-0.28,0A0.28,0.28,0,1,1,0.28,0Z'"},
                      "fill": {"signal": "datum.value === 'Oracle' ? '#000000' : datum.value === 'BSD' ? '#E41A1C' : datum.value === 'MRD_GBS' ? '#0072B2' : datum.value === 'MRD_CSX' ? 'transparent' : '#009E73'"},
                      "stroke": {"signal": "datum.value === 'Oracle' ? '#000000' : datum.value === 'BSD' ? '#E41A1C' : datum.value === 'MRD_GBS' ? '#0072B2' : datum.value === 'MRD_CSX' ? '#FF9F33' : '#009E73'"},
                      "strokeWidth": {"value": 1}
                    }}}
                  }
                }
              },
              "layer": [
                {"data": {"values": [{}]}, "mark": {"type": "rule", "strokeDash": [4, 3], "strokeWidth": 1}, "encoding": {"x": {"datum": -0.004, "type": "quantitative"}, "x2": {"datum": 0.524}, "y": {"datum": 0.1, "type": "quantitative"}, "color": {"value": "#222222"}}},
                {"mark": {"type": "line"}, "encoding": {
                  "strokeDash": {"condition": [{"test": "datum.method === 'BSD'", "value": [8, 3]}, {"test": "datum.method === 'MRD_CSX'", "value": [7, 3, 1.5, 3]}, {"test": "datum.method === 'BH'", "value": [1.3, 3]}], "value": [1, 0]},
                  "strokeWidth": {"condition": [{"test": "datum.method === 'MRD_GBS'", "value": 2.1}, {"test": "datum.method === 'MRD_CSX'", "value": 1.2}, {"test": "datum.method === 'BH'", "value": 1.4}, {"test": "datum.method === 'BSD'", "value": 1.5}], "value": 1.1}
                }},
                {"transform": [{"filter": "datum.method !== 'MRD_CSX'"}], "mark": {"type": "point", "filled": true, "opacity": 1}, "encoding": {
                  "shape": {"condition": [{"test": "datum.method === 'BSD'", "value": "triangle-up"}, {"test": "datum.method === 'MRD_GBS'", "value": "square"}], "value": "circle"},
                  "size": {"condition": [{"test": "datum.method === 'BH'", "value": 10}, {"test": "datum.method === 'BSD'", "value": 28}, {"test": "datum.method === 'MRD_GBS'", "value": 20}], "value": 16}
                }},
                {"transform": [{"filter": "datum.method === 'MRD_CSX'"}], "mark": {"type": "point", "filled": false, "shape": "M-1,0H1M0,-1V1", "size": 42, "strokeWidth": 1, "opacity": 1}}
              ]
            }
          ]
        },
        {
          "title": {"text": "(f) Two-Block Factor Dependence", "orient": "bottom", "anchor": "middle", "frame": "bounds", "font": "DejaVu Serif", "fontSize": 18.5, "fontWeight": "normal", "color": "black", "offset": 24},
          "resolve": {"scale": {"color": "independent"}, "legend": {"color": "independent"}},
          "vconcat": [
            {
              "width": 356,
              "height": 198,
              "title": {"text": "FDR", "subtitle": ["Two-Block Factor Loadings", "n = 50, α = 0.1, ψ² = 2 * log(n), G = 5000"]},
              "data": {"name": "fdr"},
              "transform": [{"filter": "datum.panel === 'f'"}],
              "encoding": {
                "x": {"field": "p", "type": "quantitative", "title": "Sparsity p", "scale": {"domain": [-0.004, 0.524], "nice": false, "zero": false}, "axis": {"values": [0, 0.1, 0.2, 0.3, 0.4, 0.5], "format": ".1f"}},
                "y": {"field": "fdr", "type": "quantitative", "title": "FDR", "scale": {"domain": [0.0135, 0.2815], "nice": false, "zero": false}, "axis": {"values": [0.1, 0.2], "format": ".1f"}},
                "color": {
                  "field": "method", "type": "nominal",
                  "scale": {"domain": ["Oracle", "BSD", "MRD_GBS", "MRD_CSX", "BH"], "range": ["#000000", "#E41A1C", "#0072B2", "#FF9F33", "#009E73"]},
                  "legend": {"orient": "none", "legendX": 45, "legendY": 20, "title": null,
                    "encode": {"symbols": {"update": {
                      "shape": {"signal": "datum.value === 'Oracle' ? 'M-1,0H1M0.42,0A0.42,0.42,0,1,1,-0.42,0A0.42,0.42,0,1,1,0.42,0Z' : datum.value === 'BSD' ? 'M-1,0H1M0,-0.5L0.45,0.3L-0.45,0.3Z' : datum.value === 'MRD_GBS' ? 'M-1,0H1M-0.38,-0.38H0.38V0.38H-0.38Z' : datum.value === 'MRD_CSX' ? 'M-1,0H1M0,-0.75V0.75' : 'M-1,0H1M0.28,0A0.28,0.28,0,1,1,-0.28,0A0.28,0.28,0,1,1,0.28,0Z'"},
                      "fill": {"signal": "datum.value === 'Oracle' ? '#000000' : datum.value === 'BSD' ? '#E41A1C' : datum.value === 'MRD_GBS' ? '#0072B2' : datum.value === 'MRD_CSX' ? 'transparent' : '#009E73'"},
                      "stroke": {"signal": "datum.value === 'Oracle' ? '#000000' : datum.value === 'BSD' ? '#E41A1C' : datum.value === 'MRD_GBS' ? '#0072B2' : datum.value === 'MRD_CSX' ? '#FF9F33' : '#009E73'"},
                      "strokeWidth": {"value": 1}
                    }}}
                  }
                }
              },
              "layer": [
                {"data": {"values": [{}]}, "mark": {"type": "rule", "strokeDash": [4, 3], "strokeWidth": 1}, "encoding": {"x": {"datum": -0.004, "type": "quantitative"}, "x2": {"datum": 0.524}, "y": {"datum": 0.1, "type": "quantitative"}, "color": {"value": "#222222"}}},
                {"mark": {"type": "line"}, "encoding": {
                  "strokeDash": {"condition": [{"test": "datum.method === 'BSD'", "value": [8, 3]}, {"test": "datum.method === 'MRD_CSX'", "value": [7, 3, 1.5, 3]}, {"test": "datum.method === 'BH'", "value": [1.3, 3]}], "value": [1, 0]},
                  "strokeWidth": {"condition": [{"test": "datum.method === 'MRD_GBS'", "value": 2.1}, {"test": "datum.method === 'MRD_CSX'", "value": 1.2}, {"test": "datum.method === 'BH'", "value": 1.4}, {"test": "datum.method === 'BSD'", "value": 1.5}], "value": 1.1}
                }},
                {"transform": [{"filter": "datum.method !== 'MRD_CSX'"}], "mark": {"type": "point", "filled": true, "opacity": 1}, "encoding": {
                  "shape": {"condition": [{"test": "datum.method === 'BSD'", "value": "triangle-up"}, {"test": "datum.method === 'MRD_GBS'", "value": "square"}], "value": "circle"},
                  "size": {"condition": [{"test": "datum.method === 'BH'", "value": 10}, {"test": "datum.method === 'BSD'", "value": 28}, {"test": "datum.method === 'MRD_GBS'", "value": 20}], "value": 16}
                }},
                {"transform": [{"filter": "datum.method === 'MRD_CSX'"}], "mark": {"type": "point", "filled": false, "shape": "M-1,0H1M0,-1V1", "size": 42, "strokeWidth": 1, "opacity": 1}}
              ]
            }
          ]
        }
      ],
      "spacing": 52,
      "resolve": {"scale": {"color": "independent"}, "legend": {"color": "independent"}}
    }
  ],
  "config": {
    "font": "Liberation Sans",
    "view": {"stroke": "#8c8c8c", "strokeWidth": 1},
    "style": {"guide-title": {"fontWeight": "normal", "fontSize": 8}},
    "axis": {
      "labelFont": "Liberation Sans", "labelFontSize": 7, "labelColor": "#4d4d4d",
      "titleFont": "Liberation Sans", "titleFontSize": 8, "titleFontWeight": "normal", "titleColor": "#000000",
      "tickColor": "#4d4d4d", "tickSize": 2.5, "tickWidth": 0.8,
      "gridColor": "#ebebeb", "gridWidth": 1,
      "domain": false, "labelPadding": 1, "titlePadding": 1.5
    },
    "title": {
      "font": "Liberation Sans", "fontSize": 11, "fontWeight": "normal", "color": "#000000",
      "subtitleFont": "Liberation Sans", "subtitleFontSize": 7.5, "subtitleColor": "#000000",
      "subtitlePadding": 3.5, "subtitleLineHeight": 11, "offset": 5, "anchor": "middle", "frame": "group"
    },
    "legend": {
      "labelFont": "Liberation Sans", "labelFontSize": 7, "labelColor": "#000000",
      "fillColor": "white", "strokeColor": "#bdbdbd", "padding": 4,
      "symbolSize": 50, "rowPadding": 1.5, "labelOffset": 5, "symbolStrokeWidth": 1,
      "symbolType": "M-1,0H1M0.4,0A0.4,0.4,0,1,1,-0.4,0A0.4,0.4,0,1,1,0.4,0Z"
    }
  }
}
